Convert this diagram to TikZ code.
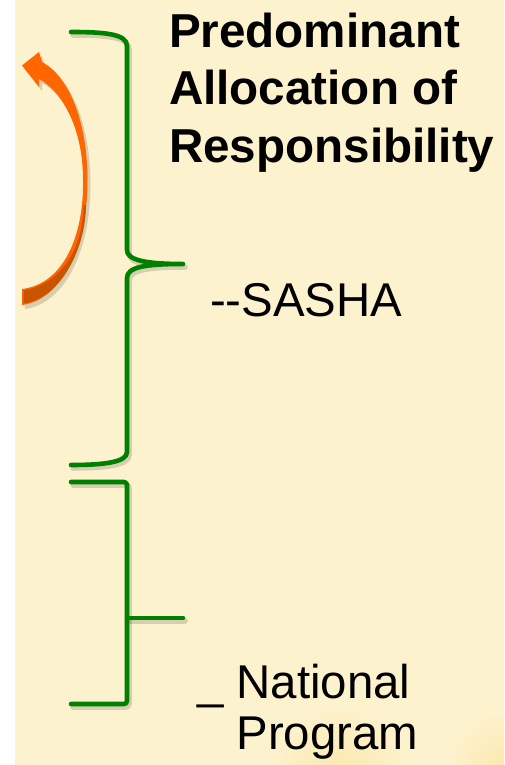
\documentclass[tikz,border=0pt]{standalone}
\usepackage{fontspec}
\setmainfont{Liberation Sans}
\definecolor{cream}{RGB}{253,242,206}
\definecolor{glow}{RGB}{251,232,172}
\definecolor{brgreen}{RGB}{0,128,0}
\definecolor{arrorange}{RGB}{255,102,0}
\definecolor{arrdark}{RGB}{200,84,0}
\newcommand\drawbrackets[1]{%
  \draw[#1] (71,32) .. controls (105,32) and (127,34) .. (127,46) -- (127,250)
     .. controls (127,260) and (145,264) .. (183,264)
     .. controls (145,264) and (127,267) .. (127,278) -- (127,452)
     .. controls (127,462) and (105,465) .. (71,465);
  \draw[#1,rounded corners=3pt] (71,482) -- (127,482) -- (127,704) -- (71,704);
  \draw[#1] (127,618) -- (183,618);}
\newcommand\arrowpath{(22,305) .. controls (60,300) and (87.5,250) .. (87.5,180)
     .. controls (87.5,128) and (72,78) .. (42,62) -- (39,52) -- (22,65.5) -- (39,87) -- (39,79)
     .. controls (60,90) and (83,125) .. (83,180)
     .. controls (84,235) and (64,284) .. (22,289) -- cycle}
\begin{document}
\begin{tikzpicture}[x=1pt,y=-1pt,
  brace/.style={draw=brgreen,line width=4.6pt,line cap=round,line join=round},
  braceshadow/.style={draw=black,opacity=0.15,line width=5.5pt,line cap=round,line join=round},
  txt/.style={inner sep=0pt,outer sep=0pt,align=left,anchor=base west,text=black}]
\useasboundingbox (0,0) rectangle (504,765);
\fill[white] (0,0) rectangle (504,765);
\fill[cream] (15,0) rectangle (504,765);
\begin{scope}
  \clip (15,0) rectangle (504,765);
  \shade[inner color=glow,outer color=cream] (340,775) circle (70pt);
  \shade[inner color=glow,outer color=cream] (505,765) circle (55pt);
\end{scope}
% brackets
\drawbrackets{braceshadow,xshift=2pt,yshift=-3pt}
\drawbrackets{brace}
% curved arrow
\fill[black,opacity=0.15,xshift=3pt,yshift=-4pt] \arrowpath;
\fill[arrorange] \arrowpath;
\fill[arrdark] (83.5,205) .. controls (83.5,245) and (64,283) .. (23.5,290.5) -- (23.5,303.5)
   .. controls (60,298.5) and (85.5,250) .. (86,205) -- cycle;
% texts (anchor at the baseline of the last line)
\node[txt,font=\bfseries\fontsize{47.6}{57.5}\selectfont] (title) at (169,162)
  {Predominant\\Allocation of\\Responsibility};
\node[txt,font=\fontsize{47.4}{52}\selectfont] (sasha) at (210,316) {-\kern0pt-SASHA};
\node[txt,font=\fontsize{47.4}{51}\selectfont] (national) at (197,749)
  {\_ National\\\hphantom{\_ }Program};
\end{tikzpicture}
\end{document}
